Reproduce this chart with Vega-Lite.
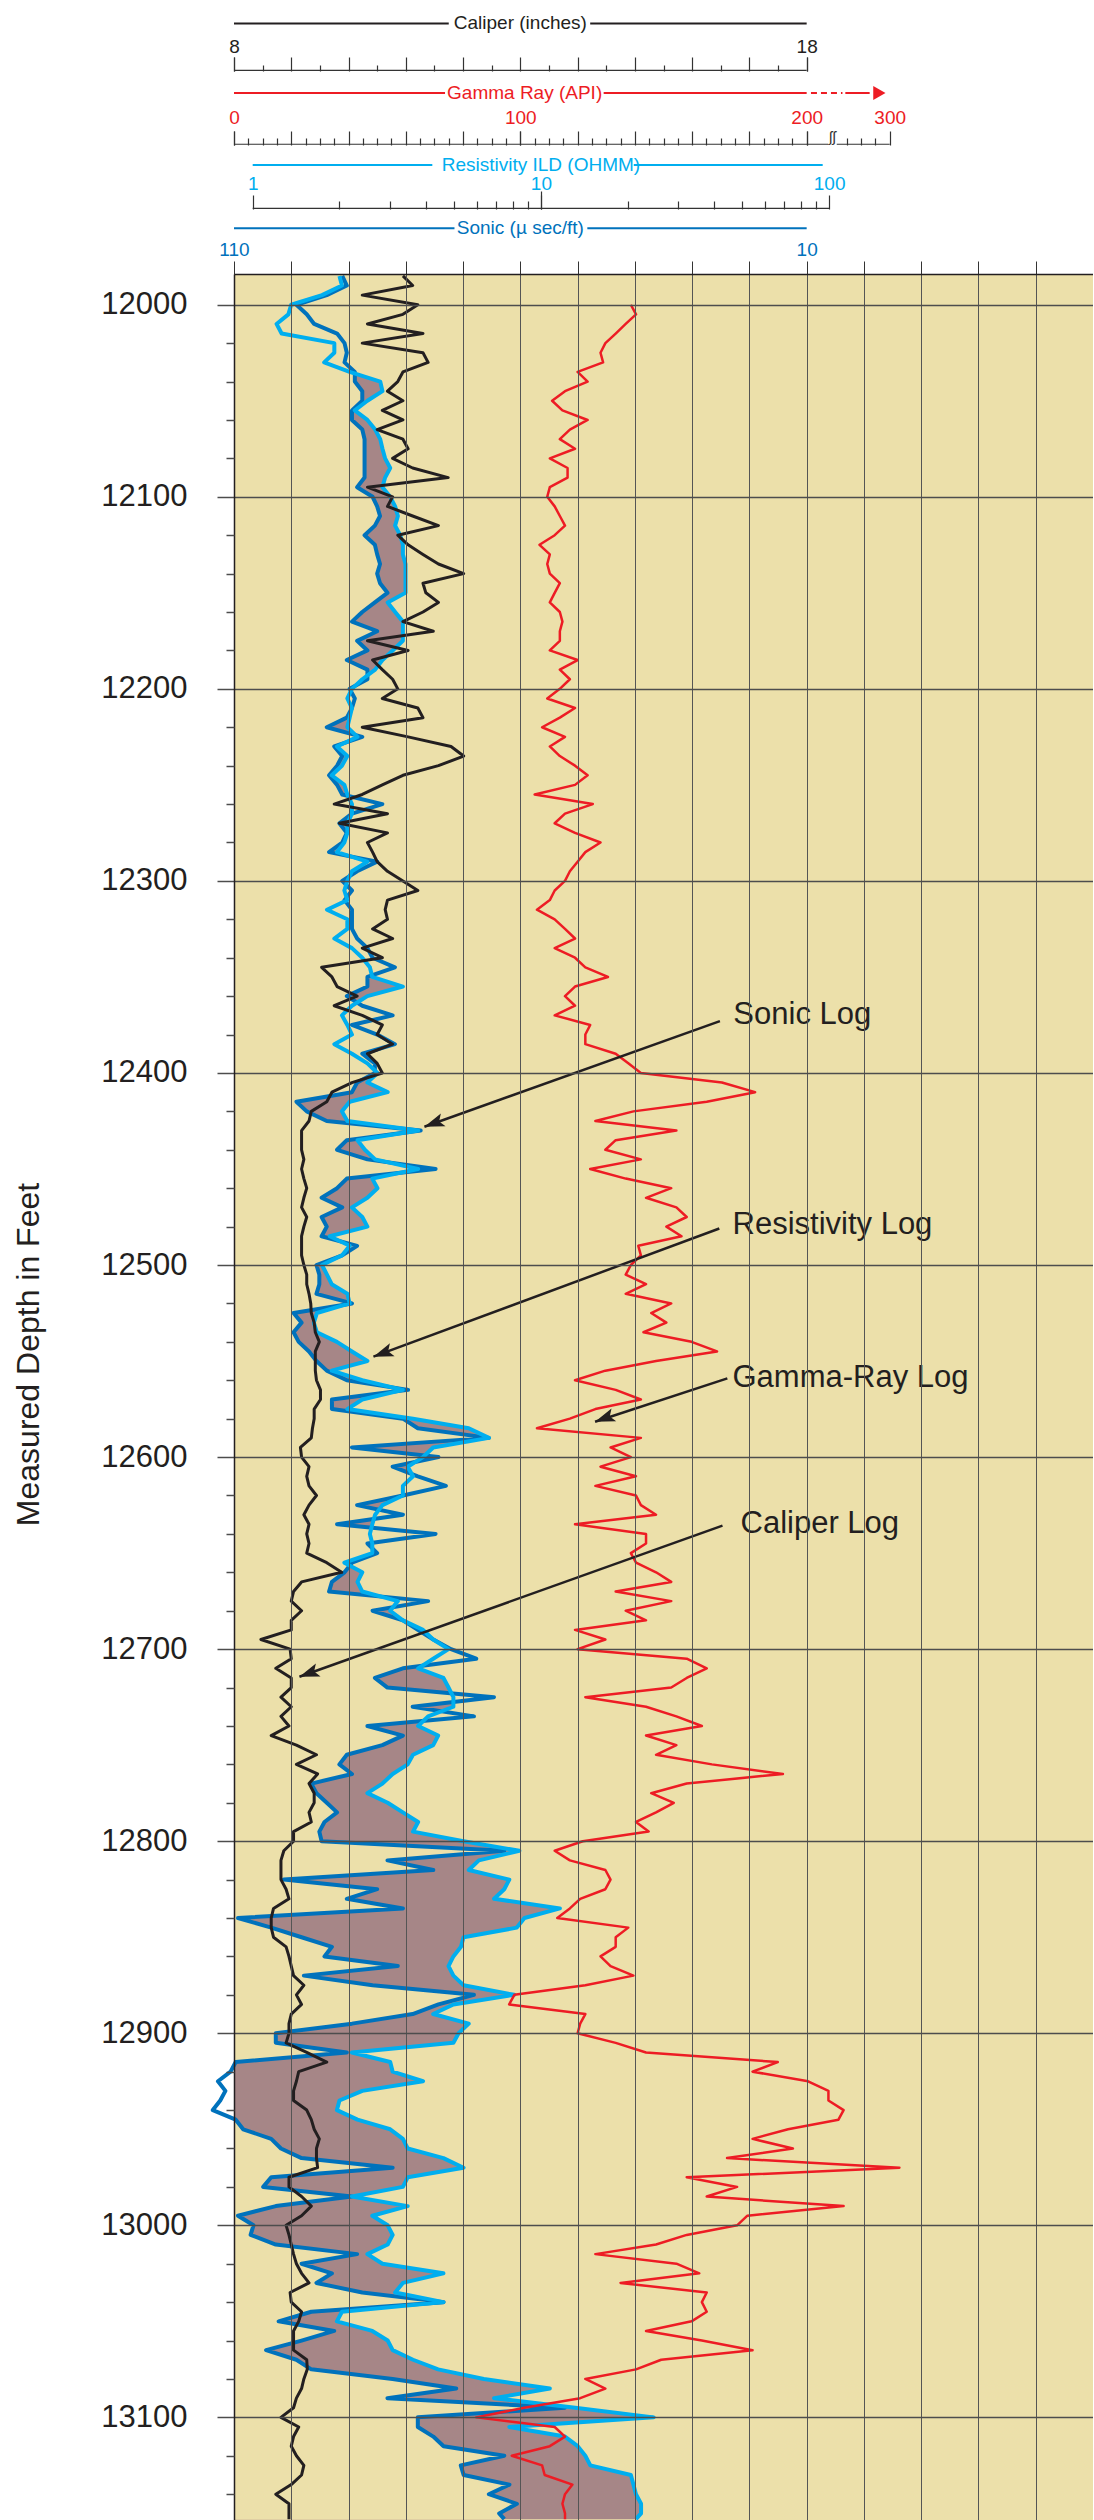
{
  "$schema": "https://vega.github.io/schema/vega-lite/v6.json",
  "background": "white",
  "padding": {"left": 12, "top": 0, "right": 0, "bottom": 0},
  "autosize": {"type": "pad"},
  "config": {"font": "Liberation Sans", "view": {"stroke": null}},
  "spacing": 0,
  "datasets": {
    "anchor": [{}],
    "notes": [
      {"label": "Sonic Log", "tx": 174.4, "td": 12370, "ax": 169.7, "ad": 12373, "bx": 66.5, "bd": 12428},
      {"label": "Resistivity Log", "tx": 174.1, "td": 12479, "ax": 169.5, "ad": 12481, "bx": 48.7, "bd": 12547.7},
      {"label": "Gamma-Ray Log", "tx": 174.1, "td": 12559, "ax": 172.3, "ad": 12559, "bx": 126.1, "bd": 12581.6},
      {"label": "Caliper Log", "tx": 176.9, "td": 12635, "ax": 170.6, "ad": 12635.7, "bx": 22.85, "bd": 12714.4}
    ],
    "logs": [
      {"d":11985,"cal":10.95,"res":2.00,"son":91.1},
      {"d":11990,"cal":11.12,"res":2.04,"son":90.3},
      {"d":11995,"cal":10.24,"res":1.74,"son":93.8},
      {"d":12000,"cal":11.21,"gr":138.6,"res":1.36,"son":99.1},
      {"d":12005,"cal":10.95,"gr":140.4,"res":1.33,"son":97.3},
      {"d":12010,"cal":10.33,"gr":136.8,"res":1.21,"son":96.0},
      {"d":12015,"cal":11.30,"gr":133.3,"res":1.26,"son":92.0},
      {"d":12020,"cal":10.24,"gr":129.7,"res":1.92,"son":90.7},
      {"d":12025,"cal":11.30,"gr":128.0,"res":1.92,"son":90.3},
      {"d":12030,"cal":11.39,"gr":128.9,"res":1.77,"son":90.7},
      {"d":12035,"cal":10.95,"gr":120.0,"res":2.17,"son":88.9},
      {"d":12040,"cal":10.86,"gr":123.5,"res":2.77,"son":88.9},
      {"d":12045,"cal":10.68,"gr":115.6,"res":2.82,"son":87.6},
      {"d":12050,"cal":10.95,"gr":111.1,"res":2.50,"son":87.6},
      {"d":12055,"cal":10.59,"gr":114.7,"res":2.26,"son":89.4},
      {"d":12060,"cal":10.95,"gr":123.5,"res":2.50,"son":89.4},
      {"d":12065,"cal":10.50,"gr":117.3,"res":2.66,"son":87.6},
      {"d":12070,"cal":10.95,"gr":113.8,"res":2.77,"son":87.2},
      {"d":12075,"cal":11.04,"gr":119.1,"res":2.82,"son":87.2},
      {"d":12080,"cal":10.77,"gr":110.3,"res":2.88,"son":87.2},
      {"d":12085,"cal":11.12,"gr":116.5,"res":3.00,"son":87.2},
      {"d":12090,"cal":11.74,"gr":116.5,"res":2.88,"son":87.2},
      {"d":12095,"cal":10.33,"gr":110.3,"res":2.82,"son":88.5},
      {"d":12100,"cal":10.77,"gr":109.4,"res":3.00,"son":85.8},
      {"d":12105,"cal":10.68,"gr":112.0,"res":3.12,"son":85.0},
      {"d":12110,"cal":11.12,"gr":113.8,"res":3.19,"son":84.5},
      {"d":12115,"cal":11.57,"gr":115.6,"res":3.12,"son":85.4},
      {"d":12120,"cal":10.86,"gr":112.0,"res":3.25,"son":87.2},
      {"d":12125,"cal":11.04,"gr":106.7,"res":3.32,"son":85.4},
      {"d":12130,"cal":11.30,"gr":110.3,"res":3.32,"son":85.0},
      {"d":12135,"cal":11.57,"gr":109.4,"res":3.39,"son":84.5},
      {"d":12140,"cal":12.01,"gr":110.3,"res":3.39,"son":85.0},
      {"d":12145,"cal":11.30,"gr":113.8,"res":3.39,"son":84.5},
      {"d":12150,"cal":11.35,"gr":112.0,"res":3.39,"son":83.2},
      {"d":12155,"cal":11.57,"gr":110.3,"res":2.94,"son":85.4},
      {"d":12160,"cal":11.30,"gr":113.8,"res":3.12,"son":87.6},
      {"d":12165,"cal":10.95,"gr":114.7,"res":3.32,"son":89.4},
      {"d":12170,"cal":11.48,"gr":113.8,"res":3.32,"son":85.0},
      {"d":12175,"cal":10.33,"gr":113.8,"res":3.32,"son":88.5},
      {"d":12180,"cal":11.04,"gr":110.3,"res":3.06,"son":86.7},
      {"d":12185,"cal":10.42,"gr":120.0,"res":2.82,"son":90.3},
      {"d":12190,"cal":10.59,"gr":113.8,"res":2.66,"son":86.7},
      {"d":12195,"cal":10.77,"gr":117.3,"res":2.40,"son":86.7},
      {"d":12200,"cal":10.86,"gr":113.8,"res":2.21,"son":89.8},
      {"d":12205,"cal":10.59,"gr":109.4,"res":2.13,"son":88.9},
      {"d":12210,"cal":11.21,"gr":119.1,"res":2.21,"son":89.4},
      {"d":12215,"cal":11.30,"gr":113.8,"res":2.17,"son":90.3},
      {"d":12220,"cal":10.24,"gr":107.6,"res":2.13,"son":93.8},
      {"d":12225,"cal":11.04,"gr":115.6,"res":2.31,"son":87.6},
      {"d":12230,"cal":11.79,"gr":110.3,"res":1.96,"son":92.5},
      {"d":12235,"cal":12.01,"gr":113.8,"res":2.13,"son":91.1},
      {"d":12240,"cal":11.57,"gr":119.1,"res":2.04,"son":92.0},
      {"d":12245,"cal":10.95,"gr":123.5,"res":1.88,"son":93.4},
      {"d":12250,"cal":10.59,"gr":119.1,"res":2.08,"son":92.0},
      {"d":12255,"cal":10.24,"gr":105.0,"res":2.13,"son":91.1},
      {"d":12260,"cal":9.75,"gr":125.3,"res":2.21,"son":84.1},
      {"d":12265,"cal":10.68,"gr":115.6,"res":2.21,"son":89.4},
      {"d":12270,"cal":9.84,"gr":112.0,"res":2.13,"son":91.6},
      {"d":12275,"cal":10.68,"gr":119.1,"res":2.13,"son":90.3},
      {"d":12280,"cal":10.33,"gr":128.0,"res":2.08,"son":91.1},
      {"d":12285,"cal":10.42,"gr":122.7,"res":1.96,"son":93.4},
      {"d":12290,"cal":10.50,"gr":120.0,"res":2.50,"son":85.0},
      {"d":12295,"cal":10.68,"gr":117.3,"res":2.21,"son":88.5},
      {"d":12300,"cal":10.95,"gr":115.6,"res":2.13,"son":91.1},
      {"d":12305,"cal":11.21,"gr":112.0,"res":2.08,"son":89.4},
      {"d":12310,"cal":10.68,"gr":110.3,"res":2.13,"son":90.7},
      {"d":12315,"cal":10.64,"gr":105.8,"res":1.81,"son":89.4},
      {"d":12320,"cal":10.68,"gr":112.0,"res":2.13,"son":89.4},
      {"d":12325,"cal":10.42,"gr":115.6,"res":2.13,"son":89.4},
      {"d":12330,"cal":10.77,"gr":119.1,"res":1.92,"son":88.5},
      {"d":12335,"cal":10.24,"gr":112.0,"res":2.21,"son":86.7},
      {"d":12340,"cal":10.59,"gr":119.1,"res":2.40,"son":85.8},
      {"d":12345,"cal":9.53,"gr":122.7,"res":2.55,"son":81.9},
      {"d":12350,"cal":9.71,"gr":130.6,"res":2.60,"son":86.7},
      {"d":12355,"cal":9.80,"gr":119.1,"res":3.32,"son":86.7},
      {"d":12360,"cal":10.15,"gr":115.6,"res":2.50,"son":90.3},
      {"d":12365,"cal":9.75,"gr":119.1,"res":2.21,"son":87.6},
      {"d":12370,"cal":10.24,"gr":112.0,"res":2.04,"son":82.3},
      {"d":12375,"cal":10.59,"gr":124.4,"res":2.13,"son":89.4},
      {"d":12380,"cal":10.50,"gr":122.7,"res":2.21,"son":85.0},
      {"d":12385,"cal":10.77,"gr":122.7,"res":1.92,"son":81.9},
      {"d":12390,"cal":10.33,"gr":133.3,"res":2.21,"son":87.6},
      {"d":12395,"cal":10.50,"gr":137.7,"res":2.50,"son":85.4},
      {"d":12400,"cal":10.59,"gr":142.1,"res":2.71,"son":85.4},
      {"d":12405,"cal":10.06,"gr":170.4,"res":2.50,"son":88.5},
      {"d":12410,"cal":9.71,"gr":182.0,"res":2.94,"son":89.4},
      {"d":12415,"cal":9.62,"gr":165.1,"res":2.17,"son":99.1},
      {"d":12420,"cal":9.35,"gr":139.5,"res":2.04,"son":97.3},
      {"d":12425,"cal":9.31,"gr":126.2,"res":2.13,"son":93.8},
      {"d":12430,"cal":9.18,"gr":154.5,"res":3.75,"son":77.4},
      {"d":12435,"cal":9.18,"gr":133.3,"res":2.31,"son":90.3},
      {"d":12440,"cal":9.18,"gr":129.7,"res":2.45,"son":92.0},
      {"d":12445,"cal":9.22,"gr":142.1,"res":2.66,"son":86.7},
      {"d":12450,"cal":9.18,"gr":124.4,"res":3.75,"son":74.8},
      {"d":12455,"cal":9.22,"gr":136.8,"res":2.60,"son":90.3},
      {"d":12460,"cal":9.27,"gr":152.7,"res":2.71,"son":92.0},
      {"d":12465,"cal":9.22,"gr":143.9,"res":2.50,"son":94.7},
      {"d":12470,"cal":9.18,"gr":154.5,"res":2.21,"son":91.1},
      {"d":12475,"cal":9.27,"gr":158.1,"res":2.40,"son":94.7},
      {"d":12480,"cal":9.22,"gr":151.0,"res":2.50,"son":93.8},
      {"d":12485,"cal":9.18,"gr":156.3,"res":1.85,"son":94.7},
      {"d":12490,"cal":9.18,"gr":141.2,"res":2.17,"son":88.5},
      {"d":12495,"cal":9.18,"gr":142.1,"res":2.04,"son":91.1},
      {"d":12500,"cal":9.22,"gr":138.6,"res":1.74,"son":95.6},
      {"d":12505,"cal":9.27,"gr":136.8,"res":1.81,"son":95.1},
      {"d":12510,"cal":9.27,"gr":143.9,"res":1.88,"son":95.1},
      {"d":12515,"cal":9.31,"gr":136.8,"res":2.13,"son":95.6},
      {"d":12520,"cal":9.34,"gr":152.7,"res":2.17,"son":89.4},
      {"d":12525,"cal":9.35,"gr":145.7,"res":1.67,"son":99.6},
      {"d":12530,"cal":9.40,"gr":151.0,"res":1.63,"son":98.2},
      {"d":12535,"cal":9.42,"gr":143.0,"res":1.67,"son":99.6},
      {"d":12540,"cal":9.49,"gr":159.8,"res":1.96,"son":98.7},
      {"d":12545,"cal":9.42,"gr":168.7,"res":2.21,"son":96.9},
      {"d":12550,"cal":9.42,"gr":147.4,"res":2.50,"son":95.6},
      {"d":12555,"cal":9.42,"gr":129.7,"res":1.88,"son":93.8},
      {"d":12560,"cal":9.44,"gr":119.1,"res":2.40,"son":90.3},
      {"d":12565,"cal":9.51,"gr":133.3,"res":3.32,"son":79.6},
      {"d":12570,"cal":9.51,"gr":142.1,"res":2.40,"son":92.9},
      {"d":12575,"cal":9.40,"gr":126.2,"res":2.13,"son":92.9},
      {"d":12580,"cal":9.40,"gr":117.3,"res":3.60,"son":80.5},
      {"d":12585,"cal":9.37,"gr":105.8,"res":5.62,"son":77.9},
      {"d":12590,"cal":9.35,"gr":142.1,"res":6.60,"son":65.5},
      {"d":12595,"cal":9.16,"gr":131.5,"res":4.23,"son":89.4},
      {"d":12600,"cal":9.18,"gr":138.6,"res":3.90,"son":74.3},
      {"d":12605,"cal":9.31,"gr":128.0,"res":3.45,"son":82.3},
      {"d":12610,"cal":9.27,"gr":140.4,"res":3.60,"son":77.9},
      {"d":12615,"cal":9.31,"gr":126.2,"res":3.32,"son":73.0},
      {"d":12620,"cal":9.44,"gr":140.4,"res":3.32,"son":80.5},
      {"d":12625,"cal":9.31,"gr":142.1,"res":2.82,"son":88.5},
      {"d":12630,"cal":9.22,"gr":147.4,"res":2.66,"son":80.5},
      {"d":12635,"cal":9.31,"gr":119.1,"res":2.60,"son":92.0},
      {"d":12640,"cal":9.27,"gr":143.9,"res":2.55,"son":74.8},
      {"d":12645,"cal":9.31,"gr":143.9,"res":2.60,"son":86.7},
      {"d":12650,"cal":9.27,"gr":138.6,"res":2.60,"son":85.0},
      {"d":12655,"cal":9.62,"gr":140.4,"res":2.08,"son":89.4},
      {"d":12660,"cal":9.88,"gr":147.4,"res":2.40,"son":90.7},
      {"d":12665,"cal":9.18,"gr":152.7,"res":2.31,"son":92.9},
      {"d":12670,"cal":9.04,"gr":133.3,"res":2.40,"son":93.4},
      {"d":12675,"cal":9.00,"gr":152.7,"res":3.19,"son":76.1},
      {"d":12680,"cal":9.18,"gr":136.8,"res":3.00,"son":85.8},
      {"d":12685,"cal":9.00,"gr":143.9,"res":3.32,"son":80.5},
      {"d":12690,"cal":9.00,"gr":119.1,"res":3.90,"son":77.9},
      {"d":12695,"cal":8.47,"gr":129.7,"res":4.23,"son":75.2},
      {"d":12700,"cal":8.98,"gr":120.0,"res":4.78,"son":72.1},
      {"d":12705,"cal":9.00,"gr":158.1,"res":4.23,"son":67.7},
      {"d":12710,"cal":8.73,"gr":165.1,"res":3.75,"son":80.5},
      {"d":12715,"cal":9.00,"gr":158.1,"res":4.59,"son":85.4},
      {"d":12720,"cal":9.00,"gr":152.7,"res":4.78,"son":83.2},
      {"d":12725,"cal":8.82,"gr":122.7,"res":4.97,"son":64.6},
      {"d":12730,"cal":9.00,"gr":143.9,"res":4.97,"son":78.8},
      {"d":12735,"cal":8.82,"gr":154.5,"res":4.06,"son":68.1},
      {"d":12740,"cal":8.96,"gr":163.4,"res":3.75,"son":86.7},
      {"d":12745,"cal":8.65,"gr":143.9,"res":4.40,"son":80.5},
      {"d":12750,"cal":9.09,"gr":154.5,"res":4.23,"son":84.1},
      {"d":12755,"cal":9.44,"gr":147.4,"res":3.60,"son":90.3},
      {"d":12760,"cal":9.09,"gr":166.9,"res":3.45,"son":91.6},
      {"d":12765,"cal":9.46,"gr":191.7,"res":3.06,"son":89.4},
      {"d":12770,"cal":9.31,"gr":158.1,"res":2.82,"son":96.5},
      {"d":12775,"cal":9.40,"gr":145.7,"res":2.50,"son":95.6},
      {"d":12780,"cal":9.40,"gr":153.6,"res":2.94,"son":93.8},
      {"d":12785,"cal":9.31,"gr":147.4,"res":3.32,"son":92.0},
      {"d":12790,"cal":9.35,"gr":140.4,"res":3.75,"son":94.2},
      {"d":12795,"cal":9.04,"gr":144.8,"res":3.60,"son":95.1},
      {"d":12800,"cal":9.04,"gr":121.8,"res":5.39,"son":94.7},
      {"d":12805,"cal":8.87,"gr":112.0,"res":8.42,"son":62.8},
      {"d":12810,"cal":8.82,"gr":117.3,"res":6.09,"son":83.2},
      {"d":12815,"cal":8.82,"gr":129.7,"res":5.62,"son":75.2},
      {"d":12820,"cal":8.82,"gr":131.5,"res":7.77,"son":101.3},
      {"d":12825,"cal":8.91,"gr":129.7,"res":7.46,"son":85.0},
      {"d":12830,"cal":8.96,"gr":120.9,"res":6.88,"son":90.3},
      {"d":12835,"cal":8.69,"gr":117.3,"res":11.64,"son":80.5},
      {"d":12840,"cal":8.65,"gr":112.9,"res":8.77,"son":109.3},
      {"d":12845,"cal":8.65,"gr":137.7,"res":8.25,"son":103.5},
      {"d":12850,"cal":8.69,"gr":133.3,"res":5.39,"son":98.2},
      {"d":12855,"cal":8.91,"gr":133.3,"res":5.28,"son":92.9},
      {"d":12860,"cal":8.96,"gr":128.0,"res":4.97,"son":94.2},
      {"d":12865,"cal":9.00,"gr":131.5,"res":4.78,"son":81.4},
      {"d":12870,"cal":9.04,"gr":139.5,"res":4.97,"son":97.8},
      {"d":12875,"cal":9.22,"gr":122.7,"res":5.39,"son":85.8},
      {"d":12880,"cal":9.09,"gr":97.9,"res":8.08,"son":68.1},
      {"d":12885,"cal":9.18,"gr":96.1,"res":4.97,"son":74.3},
      {"d":12890,"cal":9.00,"gr":122.7,"res":4.23,"son":78.8},
      {"d":12895,"cal":8.96,"gr":120.9,"res":5.62,"son":89.4},
      {"d":12900,"cal":8.96,"gr":120.0,"res":5.18,"son":102.7},
      {"d":12905,"cal":8.91,"gr":133.3,"res":4.97,"son":102.7},
      {"d":12910,"cal":9.27,"gr":143.9,"res":2.21,"son":90.3},
      {"d":12915,"cal":9.62,"gr":189.9,"res":3.00,"son":109.7},
      {"d":12920,"cal":9.13,"gr":181.1,"res":3.06,"son":110.6},
      {"d":12925,"cal":9.09,"gr":200.5,"res":3.90,"son":112.8},
      {"d":12930,"cal":9.04,"gr":207.6,"res":2.40,"son":111.5},
      {"d":12935,"cal":9.04,"gr":207.6,"res":2.00,"son":112.4},
      {"d":12940,"cal":9.27,"gr":212.9,"res":1.96,"son":113.7},
      {"d":12945,"cal":9.35,"gr":211.1,"res":2.31,"son":109.7},
      {"d":12950,"cal":9.40,"gr":193.5,"res":3.00,"son":108.4},
      {"d":12955,"cal":9.49,"gr":181.1,"res":3.32,"son":103.5},
      {"d":12960,"cal":9.44,"gr":195.2,"res":3.45,"son":101.8},
      {"d":12965,"cal":9.44,"gr":172.2,"res":4.59,"son":98.2},
      {"d":12970,"cal":9.46,"gr":232.4,"res":5.39,"son":82.3},
      {"d":12975,"cal":8.96,"gr":158.1,"res":3.45,"son":103.5},
      {"d":12980,"cal":8.96,"gr":175.7,"res":3.32,"son":104.9},
      {"d":12985,"cal":9.18,"gr":165.1,"res":2.21,"son":89.4},
      {"d":12990,"cal":9.35,"gr":212.9,"res":3.45,"son":102.7},
      {"d":12995,"cal":9.18,"gr":179.3,"res":2.60,"son":109.3},
      {"d":13000,"cal":8.91,"gr":175.7,"res":2.94,"son":106.6},
      {"d":13005,"cal":8.96,"gr":158.1,"res":3.06,"son":107.1},
      {"d":13010,"cal":9.00,"gr":147.4,"res":2.94,"son":102.7},
      {"d":13015,"cal":9.04,"gr":126.2,"res":2.50,"son":88.5},
      {"d":13020,"cal":9.09,"gr":154.5,"res":2.82,"son":98.2},
      {"d":13025,"cal":9.18,"gr":162.5,"res":4.59,"son":92.9},
      {"d":13030,"cal":9.31,"gr":135.0,"res":3.32,"son":95.6},
      {"d":13035,"cal":8.98,"gr":165.1,"res":3.12,"son":87.6},
      {"d":13040,"cal":9.00,"gr":163.4,"res":4.59,"son":73.4},
      {"d":13045,"cal":9.18,"gr":165.1,"res":2.04,"son":96.5},
      {"d":13050,"cal":9.13,"gr":159.8,"res":1.96,"son":102.2},
      {"d":13055,"cal":9.04,"gr":143.9,"res":2.60,"son":92.5},
      {"d":13060,"cal":9.04,"gr":163.4,"res":2.94,"son":98.2},
      {"d":13065,"cal":9.04,"gr":181.1,"res":3.06,"son":104.4},
      {"d":13070,"cal":9.27,"gr":149.2,"res":3.60,"son":99.1},
      {"d":13075,"cal":9.28,"gr":140.4,"res":4.40,"son":96.5},
      {"d":13080,"cal":9.22,"gr":122.7,"res":6.34,"son":82.3},
      {"d":13085,"cal":9.18,"gr":129.7,"res":10.74,"son":71.2},
      {"d":13090,"cal":9.09,"gr":120.9,"res":6.88,"son":83.2},
      {"d":13095,"cal":9.04,"gr":101.4,"res":13.15,"son":52.2},
      {"d":13100,"cal":8.82,"gr":84.6,"res":24.62,"son":77.9},
      {"d":13105,"cal":9.13,"gr":112.0,"res":7.77,"son":77.9},
      {"d":13110,"cal":9.04,"gr":115.6,"res":12.12,"son":75.2},
      {"d":13115,"cal":9.00,"gr":110.3,"res":13.42,"son":73.4},
      {"d":13120,"cal":9.09,"gr":97.0,"res":14.26,"son":62.8},
      {"d":13125,"cal":9.22,"gr":107.6,"res":14.84,"son":70.4},
      {"d":13130,"cal":9.18,"gr":108.5,"res":20.52,"son":69.9},
      {"d":13135,"cal":9.00,"gr":118.2,"res":20.94,"son":61.9},
      {"d":13140,"cal":8.73,"gr":115.6,"res":21.37,"son":65.5},
      {"d":13145,"cal":8.96,"gr":114.7,"res":22.26,"son":60.6},
      {"d":13150,"cal":8.96,"gr":115.6,"res":22.26,"son":63.7},
      {"d":13153,"cal":8.96,"gr":115.6,"res":21.37,"son":62.8}
    ]
  },
  "vconcat": [
    {
      "width": 859, "height": 71,
      "view": {"stroke": null},
      "data": {"name": "anchor"},
      "layer": [
        {"mark": {"type": "rule", "color": "#231f20", "strokeWidth": 2},
         "encoding": {
           "x": {"datum": 8, "type": "quantitative", "scale": {"domain": [8, 23], "nice": false, "zero": false},
                 "axis": {"orient": "top", "offset": -71, "values": [8,9,10,11,12,13,14,15,16,17,18], "tickSize": 14, "tickColor": "#333333", "tickWidth": 1.2, "labels": false, "domain": false, "grid": false, "title": null}},
           "x2": {"datum": 11.75},
           "y": {"datum": 0.67, "type": "quantitative", "scale": {"domain": [0, 1], "nice": false, "zero": false}, "axis": null}}},
        {"mark": {"type": "rule", "color": "#231f20", "strokeWidth": 2},
         "encoding": {
           "x": {"datum": 14.22, "type": "quantitative", "scale": {"domain": [8, 23], "nice": false, "zero": false},
                 "axis": {"orient": "top", "offset": -71, "values": [8.5,9.5,10.5,11.5,12.5,13.5,14.5,15.5,16.5,17.5], "tickSize": 6, "tickColor": "#333333", "tickWidth": 1.2, "labels": false, "domain": false, "grid": false, "title": null}},
           "x2": {"datum": 18},
           "y": {"datum": 0.67, "type": "quantitative", "scale": {"domain": [0, 1], "nice": false, "zero": false}, "axis": null}}},
        {"mark": {"type": "text", "fontSize": 19, "color": "#231f20", "baseline": "middle", "align": "center"},
         "encoding": {
           "x": {"datum": 13, "type": "quantitative", "scale": {"domain": [8, 23], "nice": false, "zero": false},
                 "axis": {"orient": "top", "offset": -71, "values": [8, 18], "tickSize": 14, "tickColor": "#333333", "tickWidth": 1.2, "labelFontSize": 19, "labelColor": "#231f20", "labelPadding": 5, "labelBaseline": "alphabetic", "labelFlush": false, "domain": false, "grid": false, "title": null}},
           "y": {"datum": 0.67, "type": "quantitative", "scale": {"domain": [0, 1], "nice": false, "zero": false}, "axis": null},
           "text": {"value": "Caliper (inches)"}}},
        {"mark": {"type": "rule", "color": "#333333", "strokeWidth": 1.2},
         "encoding": {
           "x": {"datum": 8, "type": "quantitative", "scale": {"domain": [8, 23], "nice": false, "zero": false}, "axis": null},
           "x2": {"datum": 18},
           "y": {"datum": 0.01, "type": "quantitative", "scale": {"domain": [0, 1], "nice": false, "zero": false}, "axis": null}}}
      ],
      "resolve": {"axis": {"x": "independent"}}
    },
    {
      "width": 859, "height": 73,
      "view": {"stroke": null},
      "data": {"name": "anchor"},
      "layer": [
        {"mark": {"type": "rule", "color": "#ed1c24", "strokeWidth": 2},
         "encoding": {
           "x": {"datum": 0, "type": "quantitative", "scale": {"domain": [0, 300], "nice": false, "zero": false},
                 "axis": {"orient": "top", "offset": -73, "values": [0,20,40,60,80,100,120,140,160,180,200], "tickSize": 14, "tickColor": "#333333", "tickWidth": 1.2, "labels": false, "domain": false, "grid": false, "title": null}},
           "x2": {"datum": 73.7},
           "y": {"datum": 0.712, "type": "quantitative", "scale": {"domain": [0, 1], "nice": false, "zero": false}, "axis": null}}},
        {"mark": {"type": "rule", "color": "#ed1c24", "strokeWidth": 2},
         "encoding": {
           "x": {"datum": 129.1, "type": "quantitative", "scale": {"domain": [0, 300], "nice": false, "zero": false},
                 "axis": {"orient": "top", "offset": -73, "values": [5,10,15,25,30,35,45,50,55,65,70,75,85,90,95,105,110,115,125,130,135,145,150,155,165,170,175,185,190,195], "tickSize": 7, "tickColor": "#333333", "tickWidth": 1.2, "labels": false, "domain": false, "grid": false, "title": null}},
           "x2": {"datum": 200},
           "y": {"datum": 0.712, "type": "quantitative", "scale": {"domain": [0, 1], "nice": false, "zero": false}, "axis": null}}},
        {"mark": {"type": "rule", "color": "#ed1c24", "strokeWidth": 2, "strokeDash": [6, 4]},
         "encoding": {
           "x": {"datum": 201.5, "type": "quantitative", "scale": {"domain": [0, 300], "nice": false, "zero": false},
                 "axis": {"orient": "top", "offset": -73, "values": [214, 219, 224], "tickSize": 7, "tickColor": "#333333", "tickWidth": 1.2, "labels": false, "domain": false, "grid": false, "title": null}},
           "x2": {"datum": 212.5},
           "y": {"datum": 0.712, "type": "quantitative", "scale": {"domain": [0, 1], "nice": false, "zero": false}, "axis": null}}},
        {"mark": {"type": "rule", "color": "#ed1c24", "strokeWidth": 2},
         "encoding": {
           "x": {"datum": 213.5, "type": "quantitative", "scale": {"domain": [0, 300], "nice": false, "zero": false},
                 "axis": {"orient": "top", "offset": -73, "values": [0, 100, 200, 229], "labelExpr": "datum.value == 229 ? '300' : datum.label", "tickSize": 14, "tickColor": "#333333", "tickWidth": 1.2, "labelFontSize": 19, "labelColor": "#ed1c24", "labelPadding": 8, "labelBaseline": "alphabetic", "labelFlush": false, "domain": false, "grid": false, "title": null}},
           "x2": {"datum": 222},
           "y": {"datum": 0.712, "type": "quantitative", "scale": {"domain": [0, 1], "nice": false, "zero": false}, "axis": null}}},
        {"mark": {"type": "point", "shape": "triangle-right", "filled": true, "color": "#ed1c24", "size": 200, "opacity": 1},
         "encoding": {
           "x": {"datum": 225.4, "type": "quantitative", "scale": {"domain": [0, 300], "nice": false, "zero": false}, "axis": null},
           "y": {"datum": 0.712, "type": "quantitative", "scale": {"domain": [0, 1], "nice": false, "zero": false}, "axis": null}}},
        {"mark": {"type": "text", "fontSize": 19, "color": "#ed1c24", "baseline": "middle", "align": "center"},
         "encoding": {
           "x": {"datum": 101.5, "type": "quantitative", "scale": {"domain": [0, 300], "nice": false, "zero": false}, "axis": null},
           "y": {"datum": 0.712, "type": "quantitative", "scale": {"domain": [0, 1], "nice": false, "zero": false}, "axis": null},
           "text": {"value": "Gamma Ray (API)"}}},
        {"mark": {"type": "rule", "color": "#333333", "strokeWidth": 1.2},
         "encoding": {
           "x": {"datum": 0, "type": "quantitative", "scale": {"domain": [0, 300], "nice": false, "zero": false}, "axis": null},
           "x2": {"datum": 207.5},
           "y": {"datum": 0.01, "type": "quantitative", "scale": {"domain": [0, 1], "nice": false, "zero": false}, "axis": null}}},
        {"mark": {"type": "rule", "color": "#333333", "strokeWidth": 1.2},
         "encoding": {
           "x": {"datum": 210.5, "type": "quantitative", "scale": {"domain": [0, 300], "nice": false, "zero": false}, "axis": null},
           "x2": {"datum": 229},
           "y": {"datum": 0.01, "type": "quantitative", "scale": {"domain": [0, 1], "nice": false, "zero": false}, "axis": null}}},
        {"mark": {"type": "text", "fontSize": 15, "color": "#333333", "baseline": "bottom", "align": "center"},
         "encoding": {
           "x": {"datum": 209, "type": "quantitative", "scale": {"domain": [0, 300], "nice": false, "zero": false}, "axis": null},
           "y": {"datum": 0.0, "type": "quantitative", "scale": {"domain": [0, 1], "nice": false, "zero": false}, "axis": null},
           "text": {"value": "ʃʃ"}}}
      ],
      "resolve": {"axis": {"x": "independent"}}
    },
    {
      "width": 859, "height": 63,
      "view": {"stroke": null},
      "data": {"name": "anchor"},
      "layer": [
        {"mark": {"type": "rule", "color": "#00aeef", "strokeWidth": 2},
         "encoding": {
           "x": {"datum": 1, "type": "quantitative", "scale": {"type": "log", "domain": [0.8613, 823.4], "nice": false},
                 "axis": {"orient": "top", "offset": -63, "values": [1, 10, 100], "format": "d", "tickSize": 14, "tickColor": "#333333", "tickWidth": 1.2, "labelFontSize": 19, "labelColor": "#00aeef", "labelPadding": 6, "labelBaseline": "alphabetic", "labelFlush": false, "domain": false, "grid": false, "title": null}},
           "x2": {"datum": 4.2},
           "y": {"datum": 0.7, "type": "quantitative", "scale": {"domain": [0, 1], "nice": false, "zero": false}, "axis": null}}},
        {"mark": {"type": "rule", "color": "#00aeef", "strokeWidth": 2},
         "encoding": {
           "x": {"datum": 21, "type": "quantitative", "scale": {"type": "log", "domain": [0.8613, 823.4], "nice": false},
                 "axis": {"orient": "top", "offset": -63, "values": [10], "tickSize": 18, "tickColor": "#333333", "tickWidth": 1.2, "labels": false, "domain": false, "grid": false, "title": null}},
           "x2": {"datum": 95},
           "y": {"datum": 0.7, "type": "quantitative", "scale": {"domain": [0, 1], "nice": false, "zero": false}, "axis": null}}},
        {"mark": {"type": "text", "fontSize": 19, "color": "#00aeef", "baseline": "middle", "align": "center"},
         "encoding": {
           "x": {"datum": 10, "type": "quantitative", "scale": {"type": "log", "domain": [0.8613, 823.4], "nice": false},
                 "axis": {"orient": "top", "offset": -63, "values": [2,3,4,5,6,7,8,9,20,30,40,50,60,70,80,90], "tickSize": 8, "tickColor": "#333333", "tickWidth": 1.2, "labels": false, "domain": false, "grid": false, "title": null}},
           "y": {"datum": 0.7, "type": "quantitative", "scale": {"domain": [0, 1], "nice": false, "zero": false}, "axis": null},
           "text": {"value": "Resistivity ILD (OHMM)"}}},
        {"mark": {"type": "rule", "color": "#333333", "strokeWidth": 1.2},
         "encoding": {
           "x": {"datum": 1, "type": "quantitative", "scale": {"type": "log", "domain": [0.8613, 823.4], "nice": false}, "axis": null},
           "x2": {"datum": 100},
           "y": {"datum": 0.01, "type": "quantitative", "scale": {"domain": [0, 1], "nice": false, "zero": false}, "axis": null}}}
      ],
      "resolve": {"axis": {"x": "independent"}}
    },
    {
      "width": 859, "height": 49,
      "view": {"stroke": null},
      "data": {"name": "anchor"},
      "layer": [
        {"mark": {"type": "rule", "color": "#0072bc", "strokeWidth": 2},
         "encoding": {
           "x": {"datum": 110, "type": "quantitative", "scale": {"domain": [110, -40], "nice": false, "zero": false},
                 "axis": {"orient": "top", "offset": -49, "values": [110, 10], "tickSize": 0, "labelFontSize": 19, "labelColor": "#0072bc", "labelPadding": 4, "labelBaseline": "alphabetic", "labelFlush": false, "domain": false, "grid": false, "title": null}},
           "x2": {"datum": 71.5},
           "y": {"datum": 0.63, "type": "quantitative", "scale": {"domain": [0, 1], "nice": false, "zero": false}, "axis": null}}},
        {"mark": {"type": "rule", "color": "#0072bc", "strokeWidth": 2},
         "encoding": {
           "x": {"datum": 48.3, "type": "quantitative", "scale": {"domain": [110, -40], "nice": false, "zero": false}, "axis": null},
           "x2": {"datum": 10},
           "y": {"datum": 0.63, "type": "quantitative", "scale": {"domain": [0, 1], "nice": false, "zero": false}, "axis": null}}},
        {"mark": {"type": "text", "fontSize": 19, "color": "#0072bc", "baseline": "middle", "align": "center"},
         "encoding": {
           "x": {"datum": 60, "type": "quantitative", "scale": {"domain": [110, -40], "nice": false, "zero": false}, "axis": null},
           "y": {"datum": 0.63, "type": "quantitative", "scale": {"domain": [0, 1], "nice": false, "zero": false}, "axis": null},
           "text": {"value": "Sonic (µ sec/ft)"}}}
      ],
      "resolve": {"axis": {"x": "independent"}}
    },
    {
      "width": 859, "height": 2249,
      "view": {"fill": "#ece0aa", "stroke": null},
      "data": {"name": "logs"},
      "layer": [
        {"mark": {"type": "area", "orient": "horizontal", "color": "#a68687", "opacity": 1, "clip": true},
         "encoding": {
           "y": {"field": "d", "type": "quantitative", "stack": null, "scale": {"domain": [11984, 13155], "reverse": true, "nice": false, "zero": false},
                 "axis": {"orient": "left", "values": [12000,12100,12200,12300,12400,12500,12600,12700,12800,12900,13000,13100], "format": "d", "tickSize": 17, "tickColor": "#4d4d4d", "tickWidth": 1.5, "labelFontSize": 31, "labelColor": "#231f20", "labelPadding": 30, "labelOverlap": false, "labelFlush": false, "grid": true, "gridColor": "#4d4d4d", "gridWidth": 1.5, "domain": true, "domainColor": "#231f20", "domainWidth": 1.5, "title": "Measured Depth in Feet", "titleFontSize": 32, "titleFontWeight": "normal", "titleColor": "#231f20", "titleAngle": 270, "titleX": -196, "titleY": 1080, "titleAlign": "center", "titleBaseline": "alphabetic", "zindex": 1}},
           "x": {"field": "res", "type": "quantitative", "stack": null, "scale": {"type": "log", "domain": [0.8613, 823.4], "nice": false, "zero": false}, "axis": null}}},
        {"mark": {"type": "area", "orient": "horizontal", "color": "#ece0aa", "opacity": 1, "clip": true},
         "encoding": {
           "y": {"field": "d", "type": "quantitative", "stack": null, "scale": {"domain": [11984, 13155], "reverse": true, "nice": false, "zero": false},
                 "axis": {"orient": "left", "values": [12020,12040,12060,12080,12120,12140,12160,12180,12220,12240,12260,12280,12320,12340,12360,12380,12420,12440,12460,12480,12520,12540,12560,12580,12620,12640,12660,12680,12720,12740,12760,12780,12820,12840,12860,12880,12920,12940,12960,12980,13020,13040,13060,13080,13120,13140], "tickSize": 8, "tickColor": "#4d4d4d", "tickWidth": 1.5, "labels": false, "grid": false, "domain": false, "title": null, "zindex": 1}},
           "x": {"field": "son", "type": "quantitative", "stack": null, "scale": {"domain": [110, -40], "nice": false, "zero": false}, "axis": null}}},
        {"mark": {"type": "line", "color": "#0072bc", "strokeWidth": 4, "clip": false, "strokeJoin": "round"},
         "encoding": {
           "y": {"field": "d", "type": "quantitative", "scale": {"domain": [11984, 13155], "reverse": true, "nice": false, "zero": false}, "axis": null},
           "x": {"field": "son", "type": "quantitative", "scale": {"domain": [110, -40], "nice": false, "zero": false},
                 "axis": {"orient": "top", "values": [110,100,90,80,70,60,50,40,30,20,10,0,-10,-20,-30], "tickSize": 13, "tickColor": "#333333", "tickWidth": 1, "labels": false, "grid": true, "gridColor": "#555555", "gridWidth": 1, "domain": true, "domainColor": "#231f20", "domainWidth": 1.5, "title": null, "zindex": 1}},
           "order": {"field": "d", "type": "quantitative"}}},
        {"mark": {"type": "line", "color": "#00aeef", "strokeWidth": 4, "clip": false, "strokeJoin": "round"},
         "encoding": {
           "y": {"field": "d", "type": "quantitative", "scale": {"domain": [11984, 13155], "reverse": true, "nice": false, "zero": false}, "axis": null},
           "x": {"field": "res", "type": "quantitative", "scale": {"type": "log", "domain": [0.8613, 823.4], "nice": false, "zero": false}, "axis": null},
           "order": {"field": "d", "type": "quantitative"}}},
        {"mark": {"type": "line", "color": "#231f20", "strokeWidth": 3, "clip": false, "strokeJoin": "round"},
         "encoding": {
           "y": {"field": "d", "type": "quantitative", "scale": {"domain": [11984, 13155], "reverse": true, "nice": false, "zero": false}, "axis": null},
           "x": {"field": "cal", "type": "quantitative", "scale": {"domain": [8, 23], "nice": false, "zero": false}, "axis": null},
           "order": {"field": "d", "type": "quantitative"}}},
        {"mark": {"type": "line", "color": "#ed1c24", "strokeWidth": 2.5, "clip": false, "strokeJoin": "round"},
         "encoding": {
           "y": {"field": "d", "type": "quantitative", "scale": {"domain": [11984, 13155], "reverse": true, "nice": false, "zero": false}, "axis": null},
           "x": {"field": "gr", "type": "quantitative", "scale": {"domain": [0, 300], "nice": false, "zero": false}, "axis": null},
           "order": {"field": "d", "type": "quantitative"}}},
        {"data": {"name": "notes"},
         "mark": {"type": "rule", "color": "#231f20", "strokeWidth": 2.5},
         "encoding": {
           "x": {"field": "ax", "type": "quantitative", "scale": {"domain": [0, 300], "nice": false, "zero": false}, "axis": null},
           "x2": {"field": "bx"},
           "y": {"field": "ad", "type": "quantitative", "scale": {"domain": [11984, 13155], "reverse": true, "nice": false, "zero": false}, "axis": null},
           "y2": {"field": "bd"}}},
        {"data": {"name": "notes"},
         "mark": {"type": "text", "fontSize": 31, "color": "#231f20", "align": "left", "baseline": "middle"},
         "encoding": {
           "x": {"field": "tx", "type": "quantitative", "scale": {"domain": [0, 300], "nice": false, "zero": false}, "axis": null},
           "y": {"field": "td", "type": "quantitative", "scale": {"domain": [11984, 13155], "reverse": true, "nice": false, "zero": false}, "axis": null},
           "text": {"field": "label"}}},
        {"data": {"name": "notes"},
         "mark": {"type": "point", "shape": "M0,0L0.55,1.6L0,1.25L-0.55,1.6Z", "filled": true, "color": "#231f20", "size": 625, "angle": 250, "opacity": 1, "strokeWidth": 0},
         "encoding": {
           "x": {"field": "bx", "type": "quantitative", "scale": {"domain": [0, 300], "nice": false, "zero": false}, "axis": null},
           "y": {"field": "bd", "type": "quantitative", "scale": {"domain": [11984, 13155], "reverse": true, "nice": false, "zero": false}, "axis": null}}}
      ],
      "resolve": {"scale": {"x": "independent"}, "axis": {"x": "independent", "y": "independent"}}
    }
  ]
}
